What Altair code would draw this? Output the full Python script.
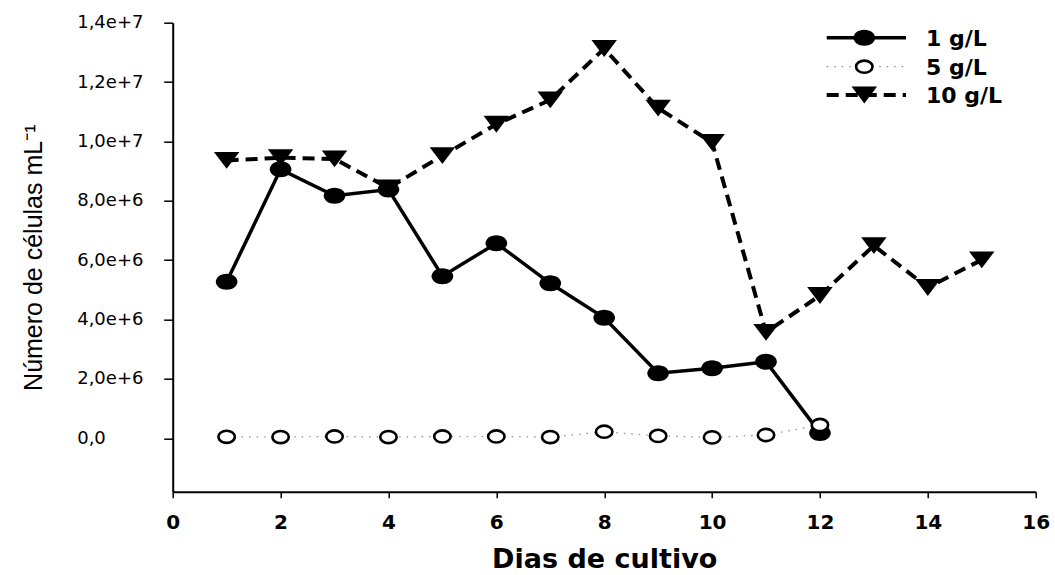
import altair as alt
import pandas as pd

# Cell counts (cells per mL) by culture day for each concentration
days_1g = list(range(1, 13))
cells_1g = [5.27e6, 9.06e6, 8.17e6, 8.38e6, 5.46e6, 6.57e6,
            5.22e6, 4.06e6, 2.19e6, 2.36e6, 2.58e6, 0.18e6]

days_5g = list(range(1, 13))
cells_5g = [0.05e6, 0.04e6, 0.06e6, 0.04e6, 0.06e6, 0.06e6,
            0.04e6, 0.22e6, 0.08e6, 0.03e6, 0.11e6, 0.45e6]

days_10g = list(range(1, 16))
cells_10g = [9.36e6, 9.45e6, 9.41e6, 8.43e6, 9.52e6, 10.58e6, 11.40e6,
             13.13e6, 11.12e6, 9.97e6, 3.57e6, 4.81e6, 6.49e6, 5.08e6, 6.01e6]

series_names = ["1 g/L", "5 g/L", "10 g/L"]

x_ticks = list(range(0, 17, 2))
y_ticks = [0, 2e6, 4e6, 6e6, 8e6, 1e7, 1.2e7, 1.4e7]

W, H = 863, 469
PAD_L, PAD_T = 172.7, 22.7

ELLIPSE = "M-1,0A1,0.74,0,1,1,1,0A1,0.74,0,1,1,-1,0Z"
TRI_DOWN = "M-1,-0.66L1,-0.66L0,0.66Z"

x_scale = alt.Scale(domain=[0, 16], nice=False, zero=False)
y_scale = alt.Scale(domain=[-1.8e6, 1.4e7], nice=False, zero=False)

x_axis = alt.Axis(
    values=x_ticks, format="d", title="Dias de cultivo",
    grid=False, domainColor="black", domainWidth=2, tickColor="black",
    tickWidth=1.5, tickSize=6, labelFont="DejaVu Sans", labelFontSize=20,
    labelFontWeight="bold", labelColor="black", labelPadding=15,
    labelFlush=False, labelOverlap=False,
    titleFont="DejaVu Sans", titleFontSize=27, titleFontWeight="bold",
    titleColor="black", titleY=76, titleBaseline="alphabetic",
)
y_axis = alt.Axis(
    values=y_ticks,
    labelExpr="datum.value == 0 ? '0,0' : replace(format(datum.value, '.1e'), '.', ',')",
    title="Número de células mL⁻¹",
    grid=False, domainColor="black", domainWidth=2, tickColor="black",
    tickWidth=1.5, tickSize=9, labelFont="DejaVu Sans", labelFontSize=18,
    labelColor="black", labelAlign="left", labelPadding=87,
    labelFlush=False, labelOverlap=False,
    titleFont="Liberation Sans", titleFontSize=25, titleFontWeight="normal",
    titleColor="black", titleX=-139, titleY=H / 2, titleAngle=270,
    titleBaseline="middle", titleAlign="center",
)


def frame(days, values):
    return pd.DataFrame({"dia": days, "celulas": values})


def enc():
    return dict(x=alt.X("dia:Q", scale=x_scale, axis=x_axis),
                y=alt.Y("celulas:Q", scale=y_scale, axis=y_axis))


df1, df5, df10 = frame(days_1g, cells_1g), frame(days_5g, cells_5g), frame(days_10g, cells_10g)

FILLED_DOT = dict(shape=ELLIPSE, size=470, filled=True, color="black", opacity=1)
OPEN_DOT = dict(shape=ELLIPSE, size=270, filled=True, fill="white", stroke="black",
                strokeWidth=2.6, opacity=1)
TRIANGLE = dict(shape=TRI_DOWN, size=650, filled=True, color="black", opacity=1)

SOLID = dict(color="black", strokeWidth=3.5)
DOTTED = dict(color="#8a8a8a", strokeWidth=1.2, strokeDash=[1.5, 6])
DASHED = dict(color="black", strokeWidth=4, strokeDash=[12, 7])

line10 = alt.Chart(df10).mark_line(**DASHED).encode(**enc())
pts10 = alt.Chart(df10).mark_point(**TRIANGLE).encode(**enc())

line1 = alt.Chart(df1).mark_line(**SOLID).encode(**enc())
pts1 = alt.Chart(df1).mark_point(**FILLED_DOT).encode(**enc())

line5 = alt.Chart(df5).mark_line(**DOTTED).encode(**enc())
pts5 = alt.Chart(df5).mark_point(**OPEN_DOT).encode(**enc())

# Legend in the upper right corner: line sample, marker, label
leg_rows = [37.7 - PAD_T, 66.7 - PAD_T, 95.0 - PAD_T]
lx0, lx1, lxm, ltx = 826.7 - PAD_L, 906.0 - PAD_L, 864.3 - PAD_L, 926.0 - PAD_L
legend_layers = []
for name, yy, ls, ms in zip(series_names, leg_rows,
                            [SOLID, DOTTED, DASHED], [FILLED_DOT, OPEN_DOT, TRIANGLE]):
    base = alt.Chart(pd.DataFrame({"serie": [name]}))
    legend_layers.append(base.mark_rule(**ls).encode(
        x=alt.value(lx0), x2=alt.value(lx1), y=alt.value(yy)))
    legend_layers.append(base.mark_point(**ms).encode(x=alt.value(lxm), y=alt.value(yy)))
    legend_layers.append(base.mark_text(
        align="left", baseline="middle", font="DejaVu Sans", fontSize=22,
        fontWeight="bold", color="black", dy=1).encode(
        x=alt.value(ltx), y=alt.value(yy), text="serie:N"))

chart = alt.layer(
    line10, pts10, line1, pts1, line5, pts5, *legend_layers
).properties(
    width=W, height=H,
    autosize=alt.AutoSizeParams(type="none"),
    padding={"left": PAD_L, "top": PAD_T, "right": 1055 - PAD_L - W, "bottom": 575 - PAD_T - H},
    background="white",
).configure_view(stroke=None)

chart.save("out.html", embed_options={"renderer": "svg", "actions": False})
